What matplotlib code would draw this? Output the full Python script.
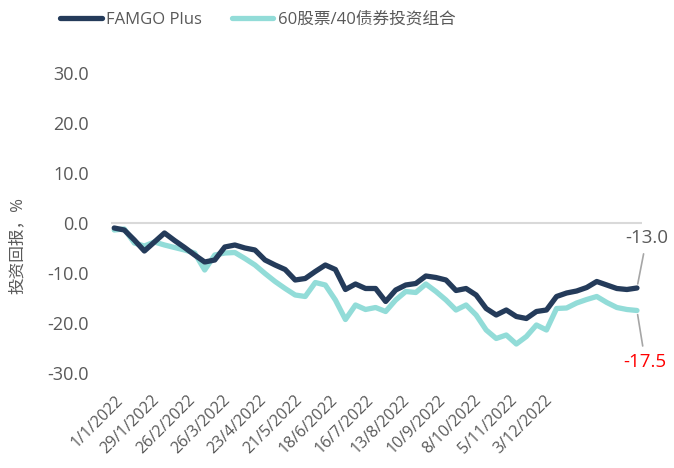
import matplotlib

matplotlib.use("Agg")
import matplotlib.pyplot as plt
import numpy as np

plt.rcParams["font.family"] = ["Open Sans", "Noto Sans CJK SC", "DejaVu Sans"]

# weekly returns, %
famgo = [
    -1.0, -1.4, -3.4, -5.6, -3.8, -2.0, -3.5, -4.9, -6.4, -7.8,
    -7.4, -4.8, -4.4, -5.0, -5.4, -7.4, -8.4, -9.3, -11.4, -11.1,
    -9.7, -8.4, -9.3, -13.3, -12.2, -13.1, -13.1, -15.7, -13.4, -12.4,
    -12.1, -10.6, -10.9, -11.4, -13.5, -13.1, -14.4, -17.1, -18.4, -17.4,
    -18.7, -19.1, -17.7, -17.4, -14.7, -14.0, -13.6, -12.9, -11.7, -12.4,
    -13.1, -13.3, -13.0,
]
mix_60_40 = [
    -1.4, -1.2, -4.0, -4.6, -3.8, -4.4, -4.9, -5.4, -6.0, -9.4,
    -6.4, -6.0, -5.9, -7.1, -8.4, -10.1, -11.7, -13.1, -14.4, -14.7,
    -11.9, -12.4, -15.4, -19.3, -16.4, -17.3, -16.9, -17.7, -15.4, -13.7,
    -13.9, -12.2, -13.7, -15.4, -17.4, -16.4, -18.4, -21.4, -23.1, -22.4,
    -24.2, -22.7, -20.4, -21.4, -17.1, -17.0, -16.0, -15.3, -14.7, -15.9,
    -16.9, -17.3, -17.5,
]
tick_labels = [
    "1/1/2022", "29/1/2022", "26/2/2022", "26/3/2022", "23/4/2022",
    "21/5/2022", "18/6/2022", "16/7/2022", "13/8/2022", "10/9/2022",
    "8/10/2022", "5/11/2022", "3/12/2022",
]
names = ["FAMGO Plus", "60股票/40债券投资组合"]

dark = "#243b5a"
light = "#92dcd8"
grey = "#595959"

fig = plt.figure(figsize=(6.74, 4.68), dpi=100)
ax = fig.add_axes([0.165, 0.203, 0.7875, 0.641])

x = np.arange(len(famgo))
ax.axhline(0, color="#d9d9d9", linewidth=1.5, zorder=1)
ax.plot(x, famgo, color=dark, linewidth=3.8, label=names[0], zorder=3,
        solid_joinstyle="round", solid_capstyle="round")
ax.plot(x, mix_60_40, color=light, linewidth=3.8, label=names[1], zorder=2,
        solid_joinstyle="round", solid_capstyle="round")

ax.set_xlim(-0.3, len(famgo) - 0.5)
ax.set_ylim(-30, 30)
ax.set_yticks(np.arange(-30, 31, 10))
ax.set_yticklabels([f"{v:.1f}" for v in np.arange(-30, 31, 10)])

tick_step = 3.56
ax.set_xticks(0.1 + tick_step * np.arange(len(tick_labels)))
ax.set_xticklabels(tick_labels, rotation=45, ha="right", va="top",
                   rotation_mode="anchor")

ax.tick_params(axis="x", length=0, pad=14, labelsize=11.5, labelcolor=grey)
ax.tick_params(axis="y", length=0, pad=16, labelsize=13, labelcolor=grey)
for s in ax.spines.values():
    s.set_visible(False)

fig.text(0.027, 0.475, "投资回报，%", rotation=90, ha="center", va="center",
         fontsize=12, color=grey)

ax.annotate("-13.0", xy=(x[-1], famgo[-1]), xytext=(7, 36),
            textcoords="offset points", ha="center", va="center",
            fontsize=13.5, color=grey,
            arrowprops=dict(arrowstyle="-", color="#a6a6a6", lw=1.2,
                            shrinkA=3, shrinkB=3))
ax.annotate("-17.5", xy=(x[-1], mix_60_40[-1]), xytext=(6, -37),
            textcoords="offset points", ha="center", va="center",
            fontsize=13.5, color="#ff0000",
            arrowprops=dict(arrowstyle="-", color="#a6a6a6", lw=1.2,
                            shrinkA=3, shrinkB=3))

fig.legend(loc="center left", bbox_to_anchor=(60 / 674, 1 - 20 / 468),
           ncol=2, frameon=False, fontsize=12, labelcolor=grey,
           handlelength=2.5, handletextpad=0.25, columnspacing=1.8,
           borderpad=0, borderaxespad=0)

fig.savefig("out.png", dpi=100, facecolor="white")
